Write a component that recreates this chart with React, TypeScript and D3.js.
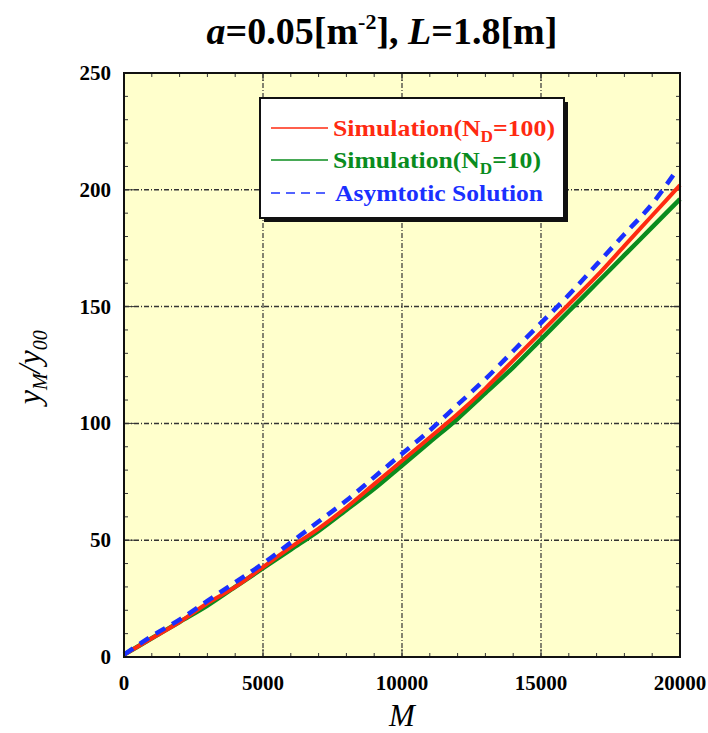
import React from "react";
import * as d3 from "d3";

// readings, M = 0..20000 step 1000
const mValues = [0, 1000, 2000, 3000, 4000, 5000, 6000, 7000, 8000, 9000, 10000,
  11000, 12000, 13000, 14000, 15000, 16000, 17000, 18000, 19000, 20000];
const sim100 = [1, 8, 15, 23, 30, 38.5, 47, 55, 64, 74, 84, 94, 104, 115, 127, 139, 151, 163, 176, 189, 202];
const sim10 = [1, 8, 15, 22, 30, 38, 46, 54, 63, 72, 82, 92, 102, 113, 124, 136, 148, 160, 172, 184, 196];
const asymM = [0, 1000, 2000, 3000, 4000, 5000, 6000, 7000, 8000, 9000, 10000,
  11000, 12000, 13000, 14000, 15000, 16000, 17000, 18000, 19000, 19800];
const asym = [1, 9, 16, 24, 32, 40, 49, 58, 67, 77, 87, 97, 108, 119, 131, 143, 155, 168, 181, 194, 207];

const xTicks = [0, 5000, 10000, 15000, 20000];
const yTicks = [0, 50, 100, 150, 200, 250];

const RED = "#ff2a10";
const GREEN = "#0a8c1e";
const BLUE = "#1a30ff";
const FONT = "'Liberation Serif', 'Times New Roman', serif";

const App = () => {
  const width = 708;
  const height = 733;
  const left = 124, right = 680, top = 73, bottom = 657;

  const x = d3.scaleLinear().domain([0, 20000]).range([left, right]);
  const y = d3.scaleLinear().domain([0, 250]).range([bottom, top]);

  const line = d3
    .line<[number, number]>()
    .x((d) => x(d[0]))
    .y((d) => y(d[1]))
    .curve(d3.curveMonotoneX);

  const toPts = (ms: number[], vs: number[]) => ms.map((m, i) => [m, vs[i]] as [number, number]);

  const xMinor = d3.range(0, 20001, 1000);
  const yMinor = d3.range(0, 251, 10);

  return (
    <svg width={width} height={height} style={{ position: "absolute", left: 0, top: 0 }} fontFamily={FONT}>
      <rect width={width} height={height} fill="white" />
      <text x={382} y={44} textAnchor="middle" fontSize={38} fontWeight="bold">
        <tspan fontStyle="italic">a</tspan>=0.05[m
        <tspan fontSize={22} dy={-15}>-2</tspan>
        <tspan dy={15}>], </tspan>
        <tspan fontStyle="italic">L</tspan>=1.8[m]
      </text>

      <rect x={left} y={top} width={right - left} height={bottom - top} fill="#ffffcc" />

      {/* grid */}
      {xTicks.slice(1, -1).map((t) => (
        <line key={"gx" + t} x1={x(t)} x2={x(t)} y1={top} y2={bottom}
          stroke="#333" strokeWidth={1.2} strokeDasharray="5,2,1,2" />
      ))}
      {yTicks.slice(1, -1).map((t) => (
        <line key={"gy" + t} x1={left} x2={right} y1={y(t)} y2={y(t)}
          stroke="#333" strokeWidth={1.5} strokeDasharray="5,2,1,2" />
      ))}

      {/* minor and major ticks, inward */}
      {xMinor.map((t) => (
        <g key={"xm" + t} stroke="#333" strokeWidth={1}>
          <line x1={x(t)} x2={x(t)} y1={bottom} y2={bottom - (t % 5000 === 0 ? 8 : 4)} />
          <line x1={x(t)} x2={x(t)} y1={top} y2={top + (t % 5000 === 0 ? 8 : 4)} />
        </g>
      ))}
      {yMinor.map((t) => (
        <g key={"ym" + t} stroke="#333" strokeWidth={1}>
          <line x1={left} x2={left + (t % 50 === 0 ? 10 : 4)} y1={y(t)} y2={y(t)} />
          <line x1={right} x2={right - (t % 50 === 0 ? 10 : 4)} y1={y(t)} y2={y(t)} />
        </g>
      ))}

      {/* series */}
      <path d={line(toPts(mValues, sim10)) || ""} fill="none" stroke={GREEN} strokeWidth={4.5} />
      <path d={line(toPts(mValues, sim100)) || ""} fill="none" stroke={RED} strokeWidth={4} />
      <path d={line(toPts(asymM, asym)) || ""} fill="none" stroke={BLUE} strokeWidth={4.5}
        strokeDasharray="11,8" />

      <rect x={left} y={top} width={right - left} height={bottom - top} fill="none" stroke="#111" strokeWidth={2} />

      {/* tick labels */}
      {xTicks.map((t) => (
        <text key={"xl" + t} x={x(t)} y={bottom + 33} textAnchor="middle" fontSize={21} fontWeight="bold">
          {t}
        </text>
      ))}
      {yTicks.map((t) => (
        <text key={"yl" + t} x={left - 13} y={y(t) + 7} textAnchor="end" fontSize={21} fontWeight="bold">
          {t}
        </text>
      ))}

      {/* axis titles */}
      <text x={x(10000)} y={726} textAnchor="middle" fontSize={31} fontStyle="italic">M</text>
      <text transform={`translate(40, ${y(124)}) rotate(-90)`} textAnchor="middle" fontSize={32} fontStyle="italic">
        y<tspan fontSize={20} dy={7}>M</tspan>
        <tspan dy={-7}>/y</tspan>
        <tspan fontSize={20} dy={7}>00</tspan>
      </text>

      {/* legend */}
      <rect x={264} y={102} width={304} height={120} fill="#111" />
      <rect x={260} y={98} width={304} height={120} fill="white" stroke="#111" strokeWidth={2} />
      <line x1={271} x2={328} y1={128} y2={128} stroke={RED} strokeWidth={1.5} />
      <line x1={271} x2={328} y1={160} y2={160} stroke={GREEN} strokeWidth={1.5} />
      <line x1={271} x2={328} y1={193} y2={193} stroke={BLUE} strokeWidth={1.5} strokeDasharray="9,6" />
      <text x={333} y={136} fontSize={24} fontWeight="bold" fill={RED} textLength={222} lengthAdjust="spacingAndGlyphs">
        Simulation(N<tspan fontSize={16} dy={6}>D</tspan><tspan dy={-6}>=100)</tspan>
      </text>
      <text x={333} y={168} fontSize={24} fontWeight="bold" fill={GREEN} textLength={208} lengthAdjust="spacingAndGlyphs">
        Simulation(N<tspan fontSize={16} dy={6}>D</tspan><tspan dy={-6}>=10)</tspan>
      </text>
      <text x={335} y={201} fontSize={24} fontWeight="bold" fill={BLUE} textLength={208} lengthAdjust="spacingAndGlyphs">
        Asymtotic Solution
      </text>
    </svg>
  );
};

export default App;
